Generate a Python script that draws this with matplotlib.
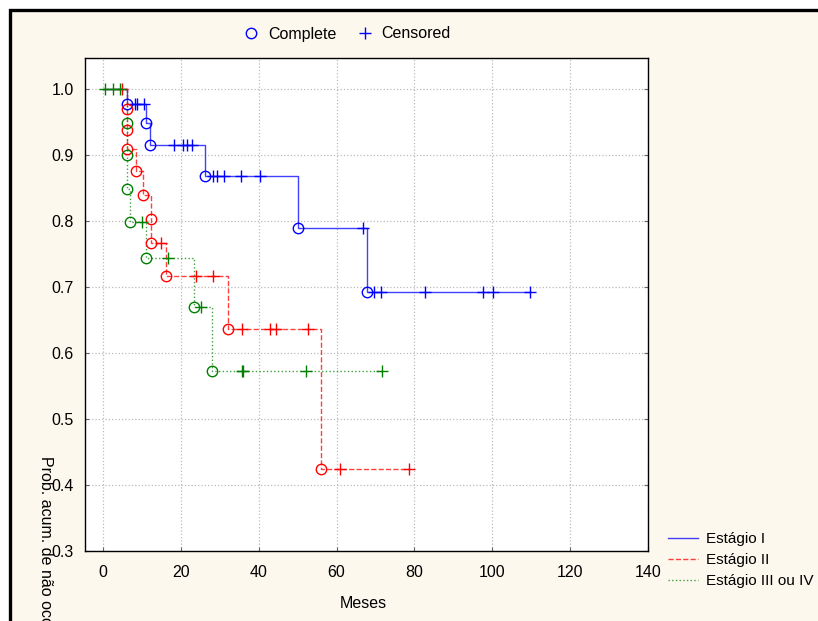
import numpy as np
import matplotlib
matplotlib.use("Agg")
import matplotlib.pyplot as plt
from matplotlib.lines import Line2D
from matplotlib.patches import Rectangle

plt.rcParams['font.family'] = ['Liberation Sans', 'DejaVu Sans']

# Kaplan-Meier data
groups = ['Estágio I', 'Estágio II', 'Estágio III ou IV']
colors = ['#0000ff', '#ff0000', '#008000']
styles = ['-', '--', ':']

ev_t1 = [6.3, 11.1, 12.2, 26.2, 50.0, 67.9]
ev_s1 = [0.977, 0.948, 0.915, 0.868, 0.789, 0.693]
cen_t1 = [8.2, 8.7, 10.5, 18.2, 20.5, 21.5, 23.0, 28.2, 29.2, 31.0, 35.4,
          40.3, 66.9, 69.7, 71.5, 82.6, 97.5, 100.1, 109.7]

ev_t2 = [6.3, 6.3, 6.3, 8.4, 10.3, 12.3, 12.3, 16.2, 32.0, 56.1]
ev_s2 = [0.969, 0.938, 0.909, 0.876, 0.840, 0.803, 0.766, 0.717, 0.637, 0.424]
cen_t2 = [5.0, 15.0, 24.0, 28.3, 35.8, 43.0, 44.5, 52.6, 60.9, 78.7]

ev_t3 = [6.3, 6.3, 6.3, 6.9, 11.0, 23.3, 27.9]
ev_s3 = [0.948, 0.900, 0.848, 0.799, 0.744, 0.670, 0.573]
cen_t3 = [0.5, 2.5, 4.4, 10.0, 16.8, 25.3, 35.6, 36.0, 52.2, 71.7]

events_t = [ev_t1, ev_t2, ev_t3]
events_s = [ev_s1, ev_s2, ev_s3]
censored = [cen_t1, cen_t2, cen_t3]

fs = 11.5

fig = plt.figure(figsize=(8.18, 6.21), dpi=100, facecolor='white')
fig.patches.append(Rectangle((10 / 818, -0.1), 1.2, 1.1 - 10 / 621,
                             transform=fig.transFigure, facecolor='#fdf8ed',
                             edgecolor='black', linewidth=2.4, zorder=-10))

ax = fig.add_axes([85 / 818, 1 - 551 / 621, (648 - 85) / 818, (551 - 58) / 621])
ax.set_facecolor('white')

for tt, ss, ct, c, ls in zip(events_t, events_s, censored, colors, styles):
    end = max(tt + ct)
    xs = [0.0] + list(tt) + [end]
    ys = [1.0] + list(ss) + [ss[-1]]
    ax.step(xs, ys, where='post', color=c, linestyle=ls, linewidth=1.0, alpha=0.75)
    ax.plot(tt, ss, 'o', ms=7.5, mfc='none', mec=c, mew=1.0, zorder=5)
    # survival value at each censored time
    cy = [([1.0] + list(ss))[np.searchsorted(tt, t, side='right')] for t in ct]
    ax.plot(ct, cy, '+', ms=9, color=c, mew=1.0, zorder=5)

ax.set_xlim(-4.6, 140)
ax.set_ylim(0.3, 1.047)
ax.set_xticks(np.arange(0, 141, 20))
ax.set_yticks(np.arange(0.3, 1.01, 0.1))
ax.set_yticklabels([f'{v:.1f}' for v in np.arange(0.3, 1.01, 0.1)])
ax.grid(True, color='#bbbbbb', linestyle=':', linewidth=0.9)
ax.tick_params(direction='in', length=3, color='#666666', labelsize=fs,
               top=False, right=True)
ax.tick_params(axis='x', pad=10)
ax.tick_params(axis='y', pad=8)
for s in ax.spines.values():
    s.set_color('black')
    s.set_linewidth(1.0)

fig.text(363 / 818, 1 - 604 / 621, 'Meses', ha='center', va='center', fontsize=fs)
fig.text(45 / 818, 1 - 456 / 621, 'Prob. acum. de não ocorrência', rotation=-90,
         ha='center', va='top', fontsize=fs)

top_handles = [Line2D([], [], marker='o', ls='none', mfc='none', mec='#0000ff', ms=7.5),
               Line2D([], [], marker='+', ls='none', color='#0000ff', ms=9)]
fig.legend(top_handles, ['Complete', 'Censored'], loc='center',
           bbox_to_anchor=(345 / 818, 1 - 34 / 621), ncol=2, frameon=False,
           fontsize=fs, handletextpad=0.3, columnspacing=1.0, handlelength=1.5)

side_handles = [Line2D([], [], color=c, ls=ls, lw=1.0, alpha=0.75)
                for c, ls in zip(colors, styles)]
fig.legend(side_handles, groups, loc='center left',
           bbox_to_anchor=(654 / 818, 1 - 560 / 621), frameon=False,
           fontsize=11, handlelength=2.0, handletextpad=0.5, labelspacing=0.45)

fig.savefig('out.png', dpi=100, facecolor=fig.get_facecolor())
